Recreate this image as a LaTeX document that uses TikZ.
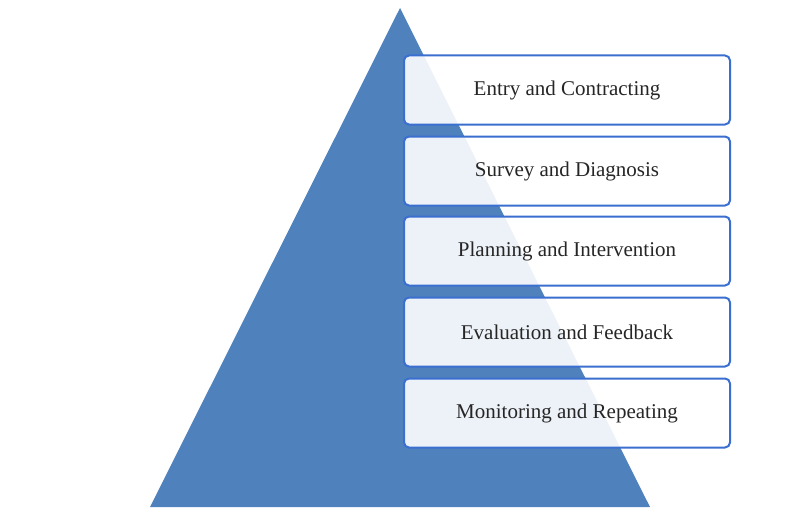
\documentclass[tikz,border=0pt]{standalone}
\usepackage{fontspec}
\setmainfont{Liberation Serif}
\usetikzlibrary{calc}
\definecolor{pyrblue}{HTML}{4F81BD}
\definecolor{edgeblue}{HTML}{3A6FD0}
\begin{document}
\begin{tikzpicture}[x=1pt,y=-1pt,
    stagebox/.style={draw=edgeblue, line width=2pt, rounded corners=5pt,
        fill=white, fill opacity=0.9, text opacity=1,
        minimum width=326pt, minimum height=69pt, font=\fontsize{21}{24}\selectfont,
        text=black!85}]
    \useasboundingbox (0,0) rectangle (800,519);

    % Pyramid
    \coordinate (T) at (400,8);
    \coordinate (L) at (150,507);
    \coordinate (R) at (650,507);
    \fill[pyrblue] (T) -- (L) -- (R) -- cycle;

    % Stages
    \node[stagebox] (S1) at (567,90)  {Entry and Contracting};
    \node[stagebox] (S2) at (567,171) {Survey and Diagnosis};
    \node[stagebox] (S3) at (567,251) {Planning and Intervention};
    \node[stagebox] (S4) at (567,332) {Evaluation and Feedback};
    \node[stagebox] (S5) at (567,413) {Monitoring and Repeating};
\end{tikzpicture}
\end{document}
